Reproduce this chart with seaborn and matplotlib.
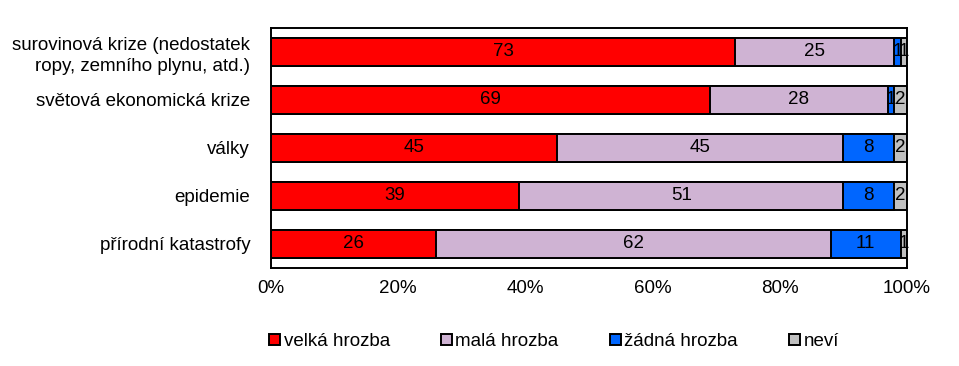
import numpy as np
import pandas as pd
import seaborn as sns
import matplotlib.pyplot as plt
from matplotlib.patches import Patch

sns.set_style('white')
plt.rcParams['font.family'] = ['Liberation Sans', 'DejaVu Sans']
plt.rcParams['font.size'] = 13.5
plt.rcParams['text.color'] = 'black'
plt.rcParams['xtick.color'] = 'black'
plt.rcParams['ytick.color'] = 'black'

categories = [
    'surovinová krize (nedostatek\nropy, zemního plynu, atd.)',
    'světová ekonomická krize',
    'války',
    'epidemie',
    'přírodní katastrofy',
]
series = ['velká hrozba', 'malá hrozba', 'žádná hrozba', 'neví']
velka = [73, 69, 45, 39, 26]
mala = [25, 28, 45, 51, 62]
zadna = [1, 1, 8, 8, 11]
nevi = [1, 2, 2, 2, 1]
colors = ['#FF0000', '#CFB3D3', '#0066FF', '#C0C0C0']

df = pd.DataFrame({'kategorie': categories, series[0]: velka, series[1]: mala,
                   series[2]: zadna, series[3]: nevi})
cum = df[series].cumsum(axis=1)

fig = plt.figure(figsize=(9.59, 3.66), dpi=100)
ax = fig.add_axes([0.2826, 0.2678, 0.6632, 0.6557])

# stacked bars: draw cumulative totals from the outermost layer inwards
for s, c in reversed(list(zip(series, colors))):
    sns.barplot(x=cum[s], y=df['kategorie'], orient='h', color=c,
                edgecolor='black', linewidth=1.4, width=0.57, saturation=1, ax=ax)

# segment labels
for i in range(len(categories)):
    for s in series:
        v = df.loc[i, s]
        ax.text(cum.loc[i, s] - v / 2, i, f'{v}', ha='center', va='center',
                fontsize=13.5, color='black')

ax.set_xlim(0, 100)
ax.set_ylim(len(categories) - 0.5, -0.5)
ax.set_xticks(np.arange(0, 101, 20))
ax.set_xticklabels([f'{t}%' for t in range(0, 101, 20)])
ax.set_xlabel('')
ax.set_ylabel('')
ax.set_yticks(np.arange(len(categories)))
ax.set_yticklabels(categories, fontsize=13.5, linespacing=1.3)
ax.set_yticks(np.arange(-0.5, len(categories)), minor=True)
ax.tick_params(axis='y', which='major', length=0, pad=15)
ax.tick_params(axis='y', which='minor', length=5, width=1, direction='out')
ax.tick_params(axis='x', length=4, width=1, direction='out', pad=5)
for t in ax.get_yticklabels():
    t.set_multialignment('right')
for sp in ax.spines.values():
    sp.set_visible(True)
    sp.set_color('black')
    sp.set_linewidth(1.4)

handles = [Patch(facecolor=c, edgecolor='black', linewidth=1.4) for c in colors]
fig.legend(handles, series, loc='center left', bbox_to_anchor=(0.281, 0.066), ncol=4,
           frameon=False, handlelength=0.55, handleheight=0.55, handletextpad=0.2,
           columnspacing=2.75, borderpad=0, borderaxespad=0, fontsize=13.5)

fig.savefig('out.png', dpi=100)
